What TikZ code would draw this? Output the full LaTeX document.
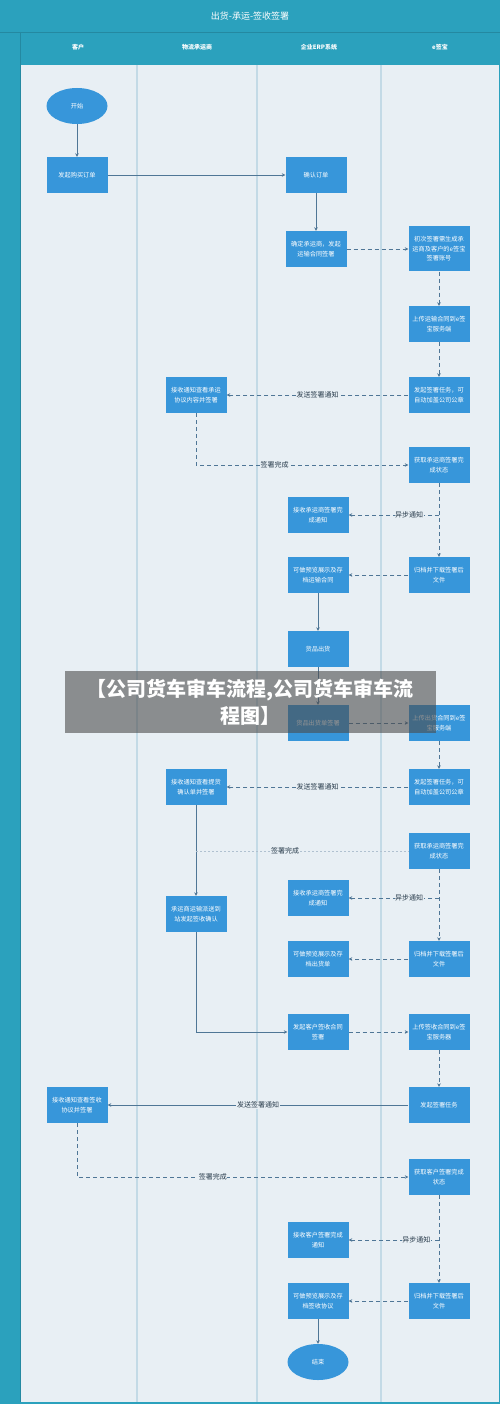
\documentclass[tikz,border=0pt]{standalone}
\usepackage{fontspec}
\newfontfamily\cjk{Noto Sans CJK SC}
\usetikzlibrary{arrows.meta,shapes.geometric}
\definecolor{lanehead}{HTML}{2BA1BD}
\definecolor{laneback}{HTML}{E8EFF4}
\definecolor{laneline}{HTML}{C3DAE6}
\definecolor{boxblue}{HTML}{3796DA}
\definecolor{flowline}{HTML}{4F7696}
\begin{document}
\begin{tikzpicture}[x=1pt,y=-1pt,
    stepbox/.style={rectangle,fill=boxblue,minimum width=61pt,minimum height=36pt,
        text width=58pt,align=center,inner sep=0pt,text=white,font=\cjk\fontsize{6.2}{9.5}\selectfont},
    tallbox/.style={stepbox,minimum height=45pt},
    endpoint/.style={ellipse,fill=boxblue,minimum width=61pt,minimum height=36pt,
        inner sep=0pt,text=white,font=\cjk\fontsize{6.2}{9.5}\selectfont},
    lanetitle/.style={text=white,font=\cjk\bfseries\fontsize{6}{6}\selectfont},
    flow/.style={draw=flowline,line width=0.6pt,-{Stealth[length=3.5pt,width=3.5pt]}},
    dflow/.style={flow,dash pattern=on 4pt off 3pt},
    tag/.style={fill=laneback,inner sep=0.6pt,text=flowline!50!black,font=\cjk\fontsize{7}{7}\selectfont}]
    \useasboundingbox (0,0) rectangle (500,1404);
    \fill[lanehead] (0,0) rectangle (500,1404);
    \fill[laneback] (20,65) rectangle (499,1402);
    \draw[lanehead!85!black,line width=0.5pt] (0,32) -- (500,32);
    \draw[lanehead!85!black,line width=0.5pt] (20,32) -- (20,1402);
    \foreach \x in {137,257,381}
        \draw[laneline,line width=1.2pt] (\x,65) -- (\x,1402);
    \node[text=white,font=\cjk\fontsize{9}{9}\selectfont] (title) at (250,16) {出货-承运-签收签署};
    \foreach \x/\t in {78/客户,197/物流承运商,319/企业ERP系统,440/e签宝}
        \node[lanetitle] (head-\x) at (\x,47) {\t};

    \node[endpoint] (start) at (77,106) {开始};
    \node[stepbox] (order) at (77,175) {发起购买订单};
    \node[stepbox] (confirm) at (316,175) {确认订单};
    \node[stepbox] (carrier) at (316,249) {确定承运商，发起\\运输合同签署};
    \node[tallbox] (account) at (439,249) {初次签署需生成承\\运商及客户的e签宝\\签署账号};
    \node[stepbox] (upload1) at (439,324) {上传运输合同到e签\\宝服务端};
    \node[stepbox] (task1) at (439,395) {发起签署任务，可\\自动加盖公司公章};
    \node[stepbox] (sign1) at (196,395) {接收通知查看承运\\协议内容并签署};
    \node[stepbox] (status1) at (439,465) {获取承运商签署完\\成状态};
    \node[stepbox] (notify1) at (318,515) {接收承运商签署完\\成通知};
    \node[stepbox] (archive1) at (439,575) {归档并下载签署后\\文件};
    \node[stepbox] (preview1) at (318,575) {可做预览展示及存\\档运输合同};
    \node[stepbox] (ship) at (318,649) {货品出货};
    \node[stepbox] (shipsign) at (318,723) {货品出货单签署};
    \node[stepbox] (upload2) at (439,723) {上传出货合同到e签\\宝服务端};
    \node[stepbox] (task2) at (439,787) {发起签署任务，可\\自动加盖公司公章};
    \node[stepbox] (sign2) at (196,787) {接收通知查看提货\\确认单并签署};
    \node[stepbox] (status2) at (439,851) {获取承运商签署完\\成状态};
    \node[stepbox] (notify2) at (318,898) {接收承运商签署完\\成通知};
    \node[stepbox] (deliver) at (196,914) {承运商运输派送到\\站发起签收确认};
    \node[stepbox] (archive2) at (439,959) {归档并下载签署后\\文件};
    \node[stepbox] (preview2) at (318,959) {可做预览展示及存\\档出货单};
    \node[stepbox] (receipt) at (318,1032) {发起客户签收合同\\签署};
    \node[stepbox] (upload3) at (439,1032) {上传签收合同到e签\\宝服务器};
    \node[stepbox] (task3) at (439,1105) {发起签署任务};
    \node[stepbox] (sign3) at (77,1105) {接收通知查看签收\\协议并签署};
    \node[stepbox] (status3) at (439,1177) {获取客户签署完成\\状态};
    \node[stepbox] (notify3) at (318,1240) {接收客户签署完成\\通知};
    \node[stepbox] (archive3) at (439,1301) {归档并下载签署后\\文件};
    \node[stepbox] (preview3) at (318,1301) {可做预览展示及存\\档签收协议};
    \node[endpoint] (end) at (318,1362) {结束};

    \draw[flow] (start) -- (order);
    \draw[flow] (order) -- (confirm);
    \draw[flow] (confirm) -- (carrier);
    \draw[dflow] (carrier) -- (account);
    \draw[dflow] (account) -- (upload1);
    \draw[dflow] (upload1) -- (task1);
    \draw[dflow] (task1) -- node[tag] {发送签署通知} (sign1);
    \draw[dflow] (sign1) |- node[tag,pos=0.685] {签署完成} (status1);
    \draw[dflow] (status1) -- (archive1);
    \draw[dflow] (status1 |- notify1) -- node[tag,pos=0.33] {异步通知} (notify1);
    \draw[dflow] (archive1) -- (preview1);
    \draw[flow] (preview1) -- (ship);
    \draw[flow] (ship) -- (shipsign);
    \draw[dflow] (shipsign) -- (upload2);
    \draw[dflow] (upload2) -- (task2);
    \draw[dflow] (task2) -- node[tag] {发送签署通知} (sign2);
    \draw[flow] (sign2) -- (deliver);
    \draw[draw=flowline!45,line width=0.5pt,dash pattern=on 2pt off 2pt]
        (sign2 |- status2) -- node[tag,pos=0.42] {签署完成} (status2);
    \draw[dflow] (status2) -- (archive2);
    \draw[dflow] (status2 |- notify2) -- node[tag,pos=0.33] {异步通知} (notify2);
    \draw[dflow] (archive2) -- (preview2);
    \draw[flow] (deliver) |- (receipt);
    \draw[dflow] (receipt) -- (upload3);
    \draw[dflow] (upload3) -- (task3);
    \draw[flow] (task3) -- node[tag] {发送签署通知} (sign3);
    \draw[dflow] (sign3) |- node[tag,pos=0.705] {签署完成} (status3);
    \draw[dflow] (status3) -- (archive3);
    \draw[dflow] (status3 |- notify3) -- node[tag,pos=0.25] {异步通知} (notify3);
    \draw[dflow] (archive3) -- (preview3);
    \draw[flow] (preview3) -- (end);

    \node[fill=black!70,fill opacity=0.6,text opacity=1,minimum width=371pt,minimum height=62pt,
        align=center,text=white,font=\cjk\bfseries\fontsize{20}{27}\selectfont] (banner) at (250,702)
        {【公司货车审车流程,公司货车审车流\\程图】};
\end{tikzpicture}
\end{document}
